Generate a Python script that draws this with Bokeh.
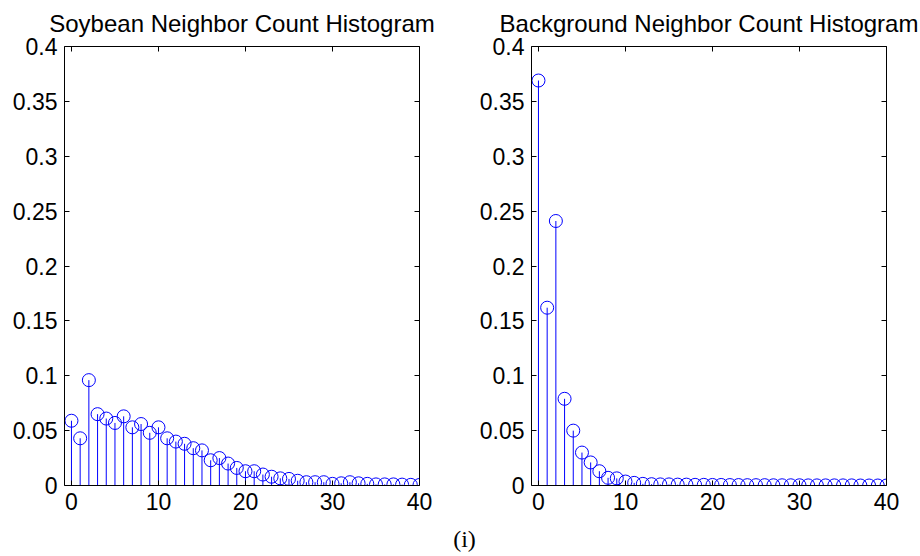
from bokeh.plotting import figure
from bokeh.layouts import column, row
from bokeh.models import LinearAxis, FixedTicker, Label, Range1d, CustomLabelingPolicy
from bokeh.embed import file_html
from bokeh.resources import INLINE

bins = list(range(0, 41))
soybean = [0.059, 0.043, 0.096, 0.065, 0.061, 0.057, 0.063, 0.053, 0.056, 0.048,
           0.053, 0.043, 0.040, 0.038, 0.034, 0.032, 0.023, 0.025, 0.020, 0.016,
           0.013, 0.013, 0.010, 0.008, 0.0065, 0.006, 0.0043, 0.003, 0.003, 0.003,
           0.0015, 0.002, 0.003, 0.002, 0.0015, 0.001, 0.001, 0.001, 0.0008, 0.0006, 0.0005]
background = [0.369, 0.162, 0.241, 0.079, 0.050, 0.030, 0.021, 0.013, 0.007, 0.0065,
              0.0036, 0.0024, 0.0015, 0.0012, 0.001, 0.001, 0.0008, 0.0008, 0.0006, 0.0006,
              0.0005, 0.0005, 0.0004, 0.0004, 0.0003, 0.0003, 0.0003, 0.0002, 0.0002, 0.0002,
              0.0002, 0.0001, 0.0001, 0.0001, 0.0001, 0.0001, 0.0001, 0.0, 0.0, 0.0, 0.0]
x_ticks = [0, 10, 20, 30, 40]
y_ticks = [0, 0.05, 0.1, 0.15, 0.2, 0.25, 0.3, 0.35, 0.4]
y_tick_labels = ["0", "0.05", "0.1", "0.15", "0.2", "0.25", "0.3", "0.35", "0.4"]
titles = ["Soybean Neighbor Count Histogram", "Background Neighbor Count Histogram"]
caption = "(i)"

FONT = "Liberation Sans"


def make_plot(title, ys, width, left, right):
    p = figure(width=width, height=515, output_backend="svg", toolbar_location=None,
               x_range=Range1d(-0.8, 40), y_range=Range1d(0, 0.4),
               min_border_left=left, min_border_right=right,
               min_border_top=46, min_border_bottom=30,
               x_axis_location=None, y_axis_location=None)
    p.title.text = title
    p.title.align = "center"
    p.title.text_font = FONT
    p.title.text_font_size = "24px"
    p.title.text_font_style = "normal"
    p.title.text_color = "black"
    p.title.standoff = 12
    p.grid.visible = False
    p.outline_line_color = None
    p.background_fill_color = "white"
    p.border_fill_color = "white"

    overrides = {t: l for t, l in zip(y_ticks, y_tick_labels)}
    for loc in ["below", "above", "left", "right"]:
        ax = LinearAxis()
        ax.ticker = FixedTicker(ticks=x_ticks if loc in ("below", "above") else y_ticks)
        ax.major_tick_in = 5
        ax.major_tick_out = 0
        ax.minor_tick_in = 0
        ax.minor_tick_out = 0
        ax.axis_line_color = "black"
        ax.major_tick_line_color = "black"
        ax.major_label_text_font = FONT
        ax.major_label_text_font_size = "23px"
        ax.major_label_text_color = "black"
        if loc in ("left", "right"):
            ax.major_label_overrides = overrides
        if loc in ("above", "right"):
            ax.major_label_policy = CustomLabelingPolicy(
                code="for (const i of indices) { indices.unset(i) }\nreturn indices")
            ax.major_label_text_font_size = "1px"
            ax.major_label_standoff = 0
        else:
            ax.major_label_standoff = 7
        p.add_layout(ax, loc)

    p.segment(x0=bins, y0=[0] * len(bins), x1=bins, y1=ys, line_color="blue", line_width=1)
    p.scatter(x=bins, y=ys, marker="circle", size=13, fill_color=None,
              line_color="blue", line_width=1)
    return p


p1 = make_plot(titles[0], soybean, 459, 64, 40)
p2 = make_plot(titles[1], background, 461, 72, 34)

p3 = figure(width=920, height=41, output_backend="svg", toolbar_location=None,
            x_range=Range1d(0, 1), y_range=Range1d(0, 1),
            min_border=0, x_axis_location=None, y_axis_location=None)
p3.grid.visible = False
p3.outline_line_color = None
p3.add_layout(Label(x=464, y=18, x_units="screen", y_units="screen", text=caption,
                    text_font="Liberation Serif", text_font_size="24px",
                    text_align="center", text_baseline="middle", text_color="black"))

layout = column(row(p1, p2), p3)
open("out.html", "w").write(file_html(layout, INLINE))
